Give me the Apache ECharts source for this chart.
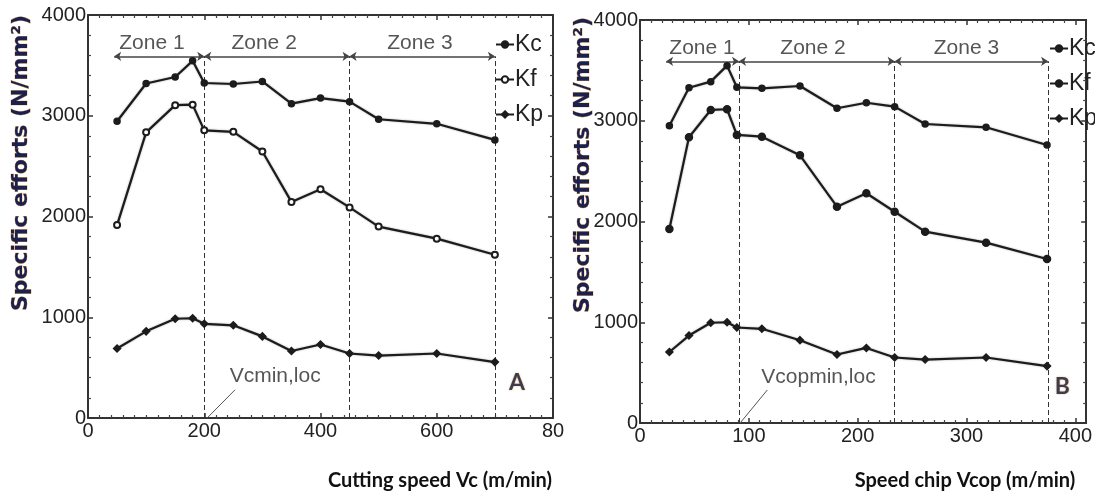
<!DOCTYPE html>
<html>
<head>
<meta charset="utf-8">
<script src="https://cdn.jsdelivr.net/npm/echarts@6/dist/echarts.min.js"></script>
<style>
  html, body { margin: 0; padding: 0; background: #fff; }
  #main { width: 1095px; height: 497px; }
</style>
</head>
<body>
<div id="main"></div>
<script>
// chart A : cutting speed Vc
var vcSpeed = [50, 100, 150, 180, 200, 250, 300, 350, 400, 450, 500, 600, 700];
var vcKc = [2945, 3320, 3385, 3545, 3325, 3315, 3340, 3120, 3175, 3140, 2965, 2920, 2760];
var vcKf = [1915, 2835, 3105, 3110, 2855, 2840, 2645, 2145, 2270, 2090, 1900, 1780, 1620];
var vcKp = [690, 860, 985, 990, 935, 920, 810, 665, 730, 640, 620, 640, 555];

// chart B : chip speed Vcop
var vcopSpeed = [27, 45, 65, 80, 89, 112, 147, 181, 208, 234, 262, 318, 374];
var vcopKc = [2950, 3328, 3388, 3547, 3332, 3322, 3345, 3124, 3179, 3140, 2968, 2935, 2759];
var vcopKf = [1925, 2836, 3107, 3114, 2859, 2842, 2657, 2147, 2280, 2097, 1899, 1790, 1628];
var vcopKp = [705, 868, 995, 1000, 948, 935, 822, 680, 745, 650, 630, 650, 565];

// zones
var zoneNames = ['Zone 1', 'Zone 2', 'Zone 3'];
var vcZoneBounds = [45, 200, 450, 700];
var vcZoneLabelX = [110, 303, 571];
var vcopZoneBounds = [24, 91, 234, 375];
var vcopZoneLabelX = [57, 159, 300];
var zoneArrowY = 3590;
var zoneLabelY = 3725;

var narrow = '"Liberation Sans Narrow", "Liberation Sans", sans-serif';
var ink = '#1c1c1c';

function pairs(xs, ys) {
    return xs.map(function(x, i) { return [x, ys[i]]; });
}

function xAx(grid, pos, max, interval, showLabel, fmt) {
    return {
        type: 'value', gridIndex: grid, position: pos, min: 0, max: max, interval: interval,
        axisLine: { show: true, onZero: false, lineStyle: { color: '#333', width: 2 } },
        axisTick: { show: true, inside: true, length: 5, lineStyle: { color: '#333', width: 1.5 } },
        minorTick: { show: true, splitNumber: 10, length: 3, lineStyle: { color: '#444', width: 1.2 } },
        splitLine: { show: false },
        axisLabel: {
            show: showLabel, showMaxLabel: true, color: '#222', fontFamily: narrow, fontSize: 20, margin: 3,
            formatter: fmt
        }
    };
}

function yAx(grid, pos, showLabel) {
    return {
        type: 'value', gridIndex: grid, position: pos, min: 0, max: 4000, interval: 1000,
        axisLine: { show: true, onZero: false, lineStyle: { color: '#333', width: 2 } },
        axisTick: { show: true, inside: true, length: 5, lineStyle: { color: '#333', width: 1.5 } },
        minorTick: { show: true, splitNumber: 5, length: 3, lineStyle: { color: '#444', width: 1.2 } },
        splitLine: { show: false },
        axisLabel: {
            show: showLabel, color: '#222', fontFamily: narrow, fontSize: 20, margin: 2,
            formatter: function(v) { return String(v); }
        }
    };
}

function lineSeries(name, xi, yi, data, symbol, size) {
    return {
        name: name, type: 'line', xAxisIndex: xi, yAxisIndex: yi, data: data,
        symbol: symbol, symbolSize: size, showSymbol: true,
        lineStyle: { color: ink, width: 2.2, shadowColor: 'rgba(0,0,0,0.35)', shadowBlur: 2 },
        itemStyle: { color: ink, borderColor: ink, borderWidth: 1.5 },
        emphasis: { disabled: true },
        z: 5
    };
}

function annotations(xi, yi, bounds, labelX, leader, leaderText, letter) {
    var arrows = [];
    var dashes = [];
    for (var i = 0; i < 3; i++) {
        arrows.push([{ coord: [bounds[i], zoneArrowY] }, { coord: [bounds[i + 1], zoneArrowY] }]);
        dashes.push([{ coord: [bounds[i + 1], 0] }, { coord: [bounds[i + 1], zoneArrowY] }]);
    }
    var texts = zoneNames.map(function(n, i) {
        return { name: n, value: [labelX[i], zoneLabelY] };
    });
    texts.push({ name: leaderText.text, value: leaderText.pos });
    texts.push({
        name: letter.text, value: letter.pos,
        label: {
            fontFamily: 'Lato, sans-serif', fontWeight: 'bold', fontSize: 23, color: '#0f1a45',
            textShadowColor: '#e8a040', textShadowBlur: 2
        }
    });
    return [{
        type: 'line', xAxisIndex: xi, yAxisIndex: yi, data: [], silent: true,
        markLine: {
            silent: true, symbol: ['arrow', 'arrow'], symbolSize: 7, label: { show: false },
            lineStyle: { color: '#444', width: 1.6, type: 'solid' },
            data: arrows
        }
    }, {
        type: 'line', xAxisIndex: xi, yAxisIndex: yi, data: [], silent: true,
        markLine: {
            silent: true, symbol: 'none', label: { show: false },
            lineStyle: { color: '#333', width: 1, type: [5, 3] },
            data: dashes
        }
    }, {
        type: 'line', xAxisIndex: xi, yAxisIndex: yi, data: [], silent: true,
        markLine: {
            silent: true, symbol: 'none', label: { show: false },
            lineStyle: { color: '#555', width: 1, type: 'solid' },
            data: [[{ coord: leader[0] }, { coord: leader[1] }]]
        }
    }, {
        type: 'scatter', xAxisIndex: xi, yAxisIndex: yi, silent: true, symbolSize: 0,
        data: texts,
        label: {
            show: true, position: 'inside', formatter: '{b}',
            color: '#2a2a2a', fontFamily: narrow, fontSize: 21
        },
        z: 6
    }];
}

function legendFor(left, top, names) {
    return {
        orient: 'vertical', left: left, top: top, itemGap: 12, itemWidth: 18, itemHeight: 8,
        padding: 0, selectedMode: false,
        formatter: function(n) { return n.trim(); },
        textStyle: { fontFamily: narrow, fontSize: 23, color: '#222', padding: [0, 0, 0, -4] },
        data: names
    };
}

var axisNameStyle = {
    fontFamily: '"DejaVu Sans", Verdana, sans-serif', fontWeight: 'bold', fontSize: 22,
    fill: '#1a2150', stroke: '#e8a040', lineWidth: 0.6
};

var myChart = echarts.init(document.getElementById('main'));
myChart.setOption({
    animation: false,
    backgroundColor: '#fff',
    grid: [
        { left: 88, right: 542, top: 15, bottom: 79 },
        { left: 640, right: 4, top: 20, bottom: 74 }
    ],
    xAxis: [
        xAx(0, 'bottom', 800, 200, true, function(v) { return v === 800 ? '80' : String(v); }),
        xAx(0, 'top', 800, 200, false),
        xAx(1, 'bottom', 410, 100, true, function(v) { return v % 100 === 0 ? String(v) : ''; }),
        xAx(1, 'top', 410, 100, false)
    ],
    yAxis: [
        yAx(0, 'left', true),
        yAx(0, 'right', false),
        yAx(1, 'left', true),
        yAx(1, 'right', false)
    ],
    legend: [
        legendFor(495, 33, ['Kc', 'Kf', 'Kp']),
        legendFor(1049, 37, ['Kc ', 'Kf ', 'Kp '])
    ],
    graphic: [
        { type: 'text', x: 21, y: 163, rotation: Math.PI / 2, style: Object.assign({ text: 'Specific efforts (N/mm²)', align: 'center', verticalAlign: 'middle' }, axisNameStyle) },
        { type: 'text', x: 583, y: 165, rotation: Math.PI / 2, style: Object.assign({ text: 'Specific efforts (N/mm²)', align: 'center', verticalAlign: 'middle' }, axisNameStyle) },
        { type: 'text', x: 440, y: 481, style: { text: 'Cutting speed Vc (m/min)', align: 'center', verticalAlign: 'middle', fontFamily: 'Lato, sans-serif', fontWeight: 'bold', fontSize: 20, fill: '#111' } },
        { type: 'text', x: 965, y: 481, style: { text: 'Speed chip Vcop (m/min)', align: 'center', verticalAlign: 'middle', fontFamily: 'Lato, sans-serif', fontWeight: 'bold', fontSize: 20, fill: '#111' } }
    ],
    series: [
        lineSeries('Kc', 0, 0, pairs(vcSpeed, vcKc), 'circle', 6),
        lineSeries('Kf', 0, 0, pairs(vcSpeed, vcKf), 'emptyCircle', 6),
        lineSeries('Kp', 0, 0, pairs(vcSpeed, vcKp), 'diamond', 7),
        lineSeries('Kc ', 2, 2, pairs(vcopSpeed, vcopKc), 'circle', 6),
        lineSeries('Kf ', 2, 2, pairs(vcopSpeed, vcopKf), 'circle', 7),
        lineSeries('Kp ', 2, 2, pairs(vcopSpeed, vcopKp), 'diamond', 7)
    ].concat(
        annotations(0, 0, vcZoneBounds, vcZoneLabelX, [[205, 0], [253, 280]],
            { text: 'Vcmin,loc', pos: [322, 417] }, { text: 'A', pos: [738, 347] }),
        annotations(2, 2, vcopZoneBounds, vcopZoneLabelX, [[92, 0], [117, 328]],
            { text: 'Vcopmin,loc', pos: [164, 457] }, { text: 'B', pos: [388, 357] })
    )
});
</script>
</body>
</html>
